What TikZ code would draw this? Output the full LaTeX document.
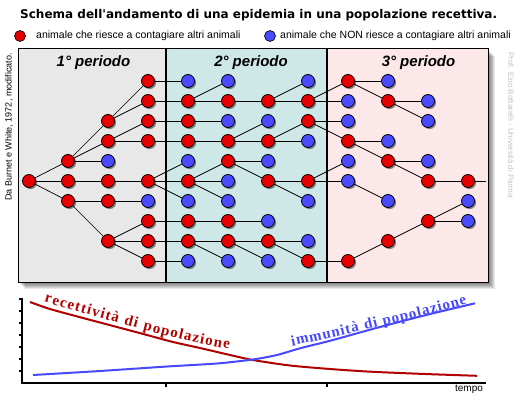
\documentclass[tikz,border=0pt]{standalone}
\usepackage{fontspec}
\setmainfont{Liberation Sans}
\newfontfamily\dejavu{DejaVu Sans}
\newfontfamily\lserif{Liberation Serif}
\usetikzlibrary{shadows,decorations.text}
\pgfdeclarelayer{back}
\pgfdeclarelayer{wires}
\pgfsetlayers{back,wires,main}
\definecolor{nred}{HTML}{E80000}
\definecolor{nblue}{HTML}{4A4AFF}
\definecolor{pone}{HTML}{E8E8E8}
\definecolor{ptwo}{HTML}{CEE8E8}
\definecolor{pthree}{HTML}{FCE8E8}
\definecolor{cred}{HTML}{B00000}
\definecolor{cblue}{HTML}{4848FF}
\definecolor{credit}{HTML}{C4C4C4}
\newcommand\redtxtfont{\lserif\bfseries\fontsize{15}{15}\selectfont\color{cred}}
\newcommand\bluetxtfont{\lserif\bfseries\fontsize{15}{15}\selectfont\color{cblue}}
\begin{document}
\begin{tikzpicture}[x=1pt,y=-1pt,
  anim/.style={circle, draw=black, line width=0.8pt, minimum size=13pt, inner sep=0pt,
    drop shadow={shadow xshift=1.6pt, shadow yshift=-1.6pt, opacity=0.45, fill=black}},
  rn/.style={anim, fill=nred},
  bn/.style={anim, fill=nblue},
  wire/.style={line width=0.7pt, black},
  legdot/.style={circle, draw=black, line width=0.6pt, minimum size=11pt, inner sep=0pt},
  legtxt/.style={anchor=west, inner sep=0pt, font=\fontsize{10.5}{12}\selectfont},
  perlab/.style={anchor=base, inner sep=0pt, font=\bfseries\itshape\fontsize{15}{17}\selectfont},
  axis/.style={line width=2pt, black},
  tick/.style={line width=1.5pt, black}
]
\useasboundingbox (0,0) rectangle (524,401);

% title and legend
\node[anchor=west, inner sep=0pt, font=\dejavu\bfseries\fontsize{12}{14}\selectfont] (title) at (20,15)
  {Schema dell\textquotesingle andamento di una epidemia in una popolazione recettiva.};
\node[legdot, fill=nred] (ldr) at (20,36) {};
\node[legtxt] (ltr) at (36,36) {animale che riesce a contagiare altri animali};
\node[legdot, fill=nblue] (ldb) at (270,36) {};
\node[legtxt] (ltb) at (280,36) {animale che NON riesce a contagiare altri animali};

% side credits
\node[rotate=90, inner sep=0pt, font=\fontsize{9}{10}\selectfont] (src) at (9,127) {Da Burnet e White, 1972, modificato.};
\node[rotate=-90, inner sep=0pt, text=credit, font=\fontsize{8}{9}\selectfont] (prof) at (511,125) {Prof. Ezio Bottarelli - Università di Parma};

% panels
\begin{pgfonlayer}{back}
  \fill[white] (0,0) rectangle (524,401);
  \foreach \s in {1,...,7} {
    \fill[black, opacity=0.09] (18+\s,49+\s) rectangle (488+\s,282+\s);
  }
  \fill[pone] (18,49) rectangle (166,282);
  \fill[ptwo] (166,49) rectangle (327,282);
  \fill[pthree] (327,49) rectangle (488,282);
  \draw[line width=1pt] (18,49) rectangle (488,282);
\end{pgfonlayer}
\draw[line width=2.5pt] (166,49) -- (166,282);
\draw[line width=2.5pt] (327,49) -- (327,282);

\node[perlab] (p1) at (93.5,67) {1° periodo};
\node[perlab] (p2) at (251,67) {2° periodo};
\node[perlab] (p3) at (418.5,67) {3° periodo};

% animals
\foreach \c/\r/\k in {0/5/rn,
  1/4/rn, 1/5/rn, 1/6/rn,
  2/2/rn, 2/3/rn, 2/4/bn, 2/5/rn, 2/6/rn, 2/8/rn,
  3/0/rn, 3/1/rn, 3/2/rn, 3/3/rn, 3/5/rn, 3/6/bn, 3/7/rn, 3/8/rn, 3/9/rn,
  4/0/bn, 4/1/rn, 4/2/rn, 4/3/rn, 4/4/bn, 4/5/rn, 4/6/bn, 4/7/rn, 4/8/rn, 4/9/bn,
  5/0/bn, 5/1/rn, 5/2/bn, 5/3/rn, 5/4/rn, 5/5/bn, 5/6/bn, 5/7/rn, 5/8/rn, 5/9/bn,
  6/1/rn, 6/2/bn, 6/3/rn, 6/4/bn, 6/5/rn, 6/7/bn, 6/8/rn, 6/9/bn,
  7/0/bn, 7/1/rn, 7/2/rn, 7/3/bn, 7/5/rn, 7/6/bn, 7/8/bn, 7/9/rn,
  8/0/rn, 8/1/bn, 8/2/bn, 8/3/rn, 8/4/bn, 8/5/bn, 8/9/rn,
  9/0/bn, 9/1/rn, 9/3/bn, 9/4/rn, 9/6/bn, 9/8/rn,
  10/1/bn, 10/2/bn, 10/4/bn, 10/5/rn, 10/7/rn,
  11/5/rn, 11/6/bn, 11/7/bn} {
  \pgfmathsetmacro\xx{ifthenelse(\c==0,29,28+40*\c)}
  \pgfmathsetmacro\yy{81+20*\r}
  \node[\k] (c\c r\r) at (\xx,\yy) {};
}
\coordinate (tail) at (486,181);

\begin{pgfonlayer}{wires}
\foreach \a/\b/\p/\q in {0/5/1/4, 0/5/1/5, 0/5/1/6, 1/4/2/2, 1/4/2/3, 1/4/2/4, 1/5/2/5,
  1/6/2/6, 1/6/2/8, 2/2/3/0, 2/2/3/1, 2/3/3/2, 2/3/3/3, 2/5/3/5, 2/6/3/6, 2/8/3/7,
  2/8/3/8, 2/8/3/9, 3/0/4/0, 3/1/4/1, 3/2/4/2, 3/3/4/3, 3/5/4/4, 3/5/4/5, 3/5/4/6,
  3/7/4/7, 3/8/4/8, 3/9/4/9, 4/1/5/0, 4/1/5/1, 4/2/5/2, 4/3/5/3, 4/5/5/4, 4/5/5/5,
  4/5/5/6, 4/7/5/7, 4/8/5/8, 4/8/5/9, 5/1/6/1, 5/3/6/2, 5/3/6/3, 5/4/6/4, 5/4/6/5,
  5/7/6/7, 5/8/6/8, 5/8/6/9, 6/1/7/0, 6/1/7/1, 6/3/7/2, 6/3/7/3, 6/5/7/5, 6/5/7/6,
  6/8/7/8, 6/8/7/9, 7/1/8/0, 7/1/8/1, 7/2/8/2, 7/2/8/3, 7/5/8/4, 7/5/8/5, 7/9/8/9,
  8/0/9/0, 8/0/9/1, 8/3/9/3, 8/3/9/4, 8/5/9/6, 8/9/9/8, 9/1/10/1, 9/1/10/2, 9/4/10/4,
  9/4/10/5, 9/8/10/7, 10/5/11/5, 10/7/11/6, 10/7/11/7} {
  \draw[wire] (c\a r\b) -- (c\p r\q);
}
\draw[wire] (c11r5) -- (tail);
\end{pgfonlayer}

% lower chart
\coordinate (ytop) at (22,298);
\coordinate (orig) at (22,383);
\coordinate (xend) at (486,383);
\draw[axis] (ytop) -- (orig) -- (xend);
\foreach \t in {299,311,323,335,347,359,371} {
  \draw[tick] (18.5,\t) -- (22,\t);
}
\draw[tick] (166,383) -- (166,387);
\draw[tick] (327,383) -- (327,387);
\node[inner sep=0pt, font=\fontsize{10}{12}\selectfont] (tempo) at (469,389) {tempo};

\draw[cred, line width=2pt] plot[smooth, tension=0.5] coordinates {(30,302) (50,309) (83,318) (117,327)
  (147,335) (173,342) (200,348) (230,355) (253,360) (290,365.5) (330,369) (367,371.5)
  (400,373) (433,374.3) (477,375.8)};
\draw[cblue, line width=2pt] plot[smooth, tension=0.4] coordinates {(33,375) (100,371) (167,366.5)
  (217,363.5) (253,359.5) (277,355) (300,348.3) (333,340) (367,330.5) (400,321.7)
  (433,313.3) (475,303.3)};

\path[decorate, decoration={text along path, text align={fit to path},
  text={|\redtxtfont|recettività di popolazione}}]
  (44,302) .. controls (100,317) and (160,337) .. (229,349);
\path[decorate, decoration={text along path, text align={fit to path},
  text={|\bluetxtfont|immunità di popolazione}}]
  (292,346) .. controls (330,338) and (420,318) .. (467,304);
\end{tikzpicture}
\end{document}
